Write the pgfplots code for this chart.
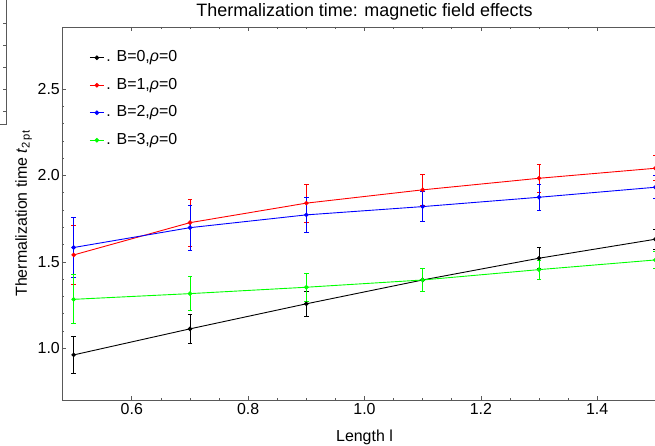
\documentclass[border=0pt]{standalone}
\usepackage{fontspec}
\setmainfont{Liberation Sans}
\usepackage{pgfplots}
\pgfplotsset{compat=1.18}
\definecolor{frame}{gray}{0.35}
\begin{document}
\begin{tikzpicture}
\begin{axis}[
    at={(0,0)}, anchor=south west,
    scale only axis, width=605bp, height=373bp,
    xmin=0.48, xmax=1.52, ymin=0.70, ymax=2.86,
    xtick={0.6,0.8,1.0,1.2,1.4},
    ytick={1.0,1.5,2.0,2.5},
    minor x tick num=3, minor y tick num=4,
    tick align=inside,
    major tick length=4bp, minor tick length=2.5bp,
    axis line style={frame, line width=0.8bp},
    every tick/.style={frame, line width=0.7bp},
    /pgf/number format/assume math mode=true,
    tick label style={font=\fontsize{16}{19}\selectfont, black},
    xticklabel style={/pgf/number format/.cd, fixed, fixed zerofill, precision=1},
    yticklabel style={inner xsep=2bp, /pgf/number format/.cd, fixed, fixed zerofill, precision=1},
    title={Thermalization time: magnetic field effects},
    title style={font=\fontsize{18}{21}\selectfont, at={(axis description cs:0.5,1)}, anchor=base, yshift=5bp},
    xlabel={Length l},
    every axis x label/.style={at={([yshift=-41bp]axis description cs:0.5,0)}, anchor=base, font=\fontsize{16}{19}\selectfont},
    ylabel={Thermalization time \textit{t}\textsubscript{2\,pt}},
    every axis y label/.style={at={([xshift=-35bp]axis description cs:0,0.5)}, rotate=90, anchor=base, font=\fontsize{16}{19}\selectfont},
    legend cell align=left,
    legend style={draw=none, fill=none, inner sep=0pt,
        at={(0.045,0.945)}, anchor=north west,
        font=\fontsize{16}{19}\selectfont,
        nodes={inner sep=2bp, text height=12bp, text depth=4bp},
        row sep=7.5bp},
    legend image code/.code={\draw[mark repeat=2,mark phase=2,#1] plot coordinates {(0bp,0bp)(7bp,0bp)(14bp,0bp)};},
    error bars/error bar style={line width=0.9bp},
    error bars/error mark options={rotate=90, mark size=2.2bp, line width=0.9bp},
]

\addplot[black, line width=0.9bp, mark=*, mark size=1.8bp,
    error bars/.cd, y dir=both, y explicit]
    coordinates {
    (0.5,0.961) +- (0,0.108)
    (0.7,1.112) +- (0,0.086)
    (0.9,1.257) +- (0,0.072)
    (1.1,1.395) +- (0,0.067)
    (1.3,1.521) +- (0,0.060)
    (1.5,1.631) +- (0,0.058)
    };
\addlegendentry{. B=0,\textit{ρ}=0}

\addplot[red, line width=0.9bp, mark=*, mark size=1.8bp,
    error bars/.cd, y dir=both, y explicit]
    coordinates {
    (0.5,1.540) +- (0,0.170)
    (0.7,1.727) +- (0,0.135)
    (0.9,1.840) +- (0,0.110)
    (1.1,1.917) +- (0,0.092)
    (1.3,1.984) +- (0,0.080)
    (1.5,2.042) +- (0,0.072)
    };
\addlegendentry{. B=1,\textit{ρ}=0}

\addplot[blue, line width=0.9bp, mark=*, mark size=1.8bp,
    error bars/.cd, y dir=both, y explicit]
    coordinates {
    (0.5,1.583) +- (0,0.175)
    (0.7,1.698) +- (0,0.130)
    (0.9,1.772) +- (0,0.103)
    (1.1,1.820) +- (0,0.085)
    (1.3,1.874) +- (0,0.075)
    (1.5,1.932) +- (0,0.066)
    };
\addlegendentry{. B=2,\textit{ρ}=0}

\addplot[green, line width=0.9bp, mark=*, mark size=1.8bp,
    error bars/.cd, y dir=both, y explicit]
    coordinates {
    (0.5,1.283) +- (0,0.142)
    (0.7,1.316) +- (0,0.100)
    (0.9,1.353) +- (0,0.080)
    (1.1,1.395) +- (0,0.068)
    (1.3,1.455) +- (0,0.056)
    (1.5,1.511) +- (0,0.052)
    };
\addlegendentry{. B=3,\textit{ρ}=0}

\end{axis}
\pgfresetboundingbox
\path[use as bounding box] (-62bp,-46bp) rectangle (593bp,400bp);
% corner of a neighbouring frame, cropped in the original
\draw[frame, line width=0.8bp] (-62bp,276bp) -- (-56bp,276bp) -- (-56bp,401bp);
\draw[frame, line width=0.7bp] (-56bp,289bp) -- (-58.5bp,289bp)
    (-56bp,311bp) -- (-58.5bp,311bp) (-56bp,333bp) -- (-58.5bp,333bp)
    (-56bp,355bp) -- (-58.5bp,355bp) (-56bp,377bp) -- (-58.5bp,377bp);
\end{tikzpicture}
\end{document}
